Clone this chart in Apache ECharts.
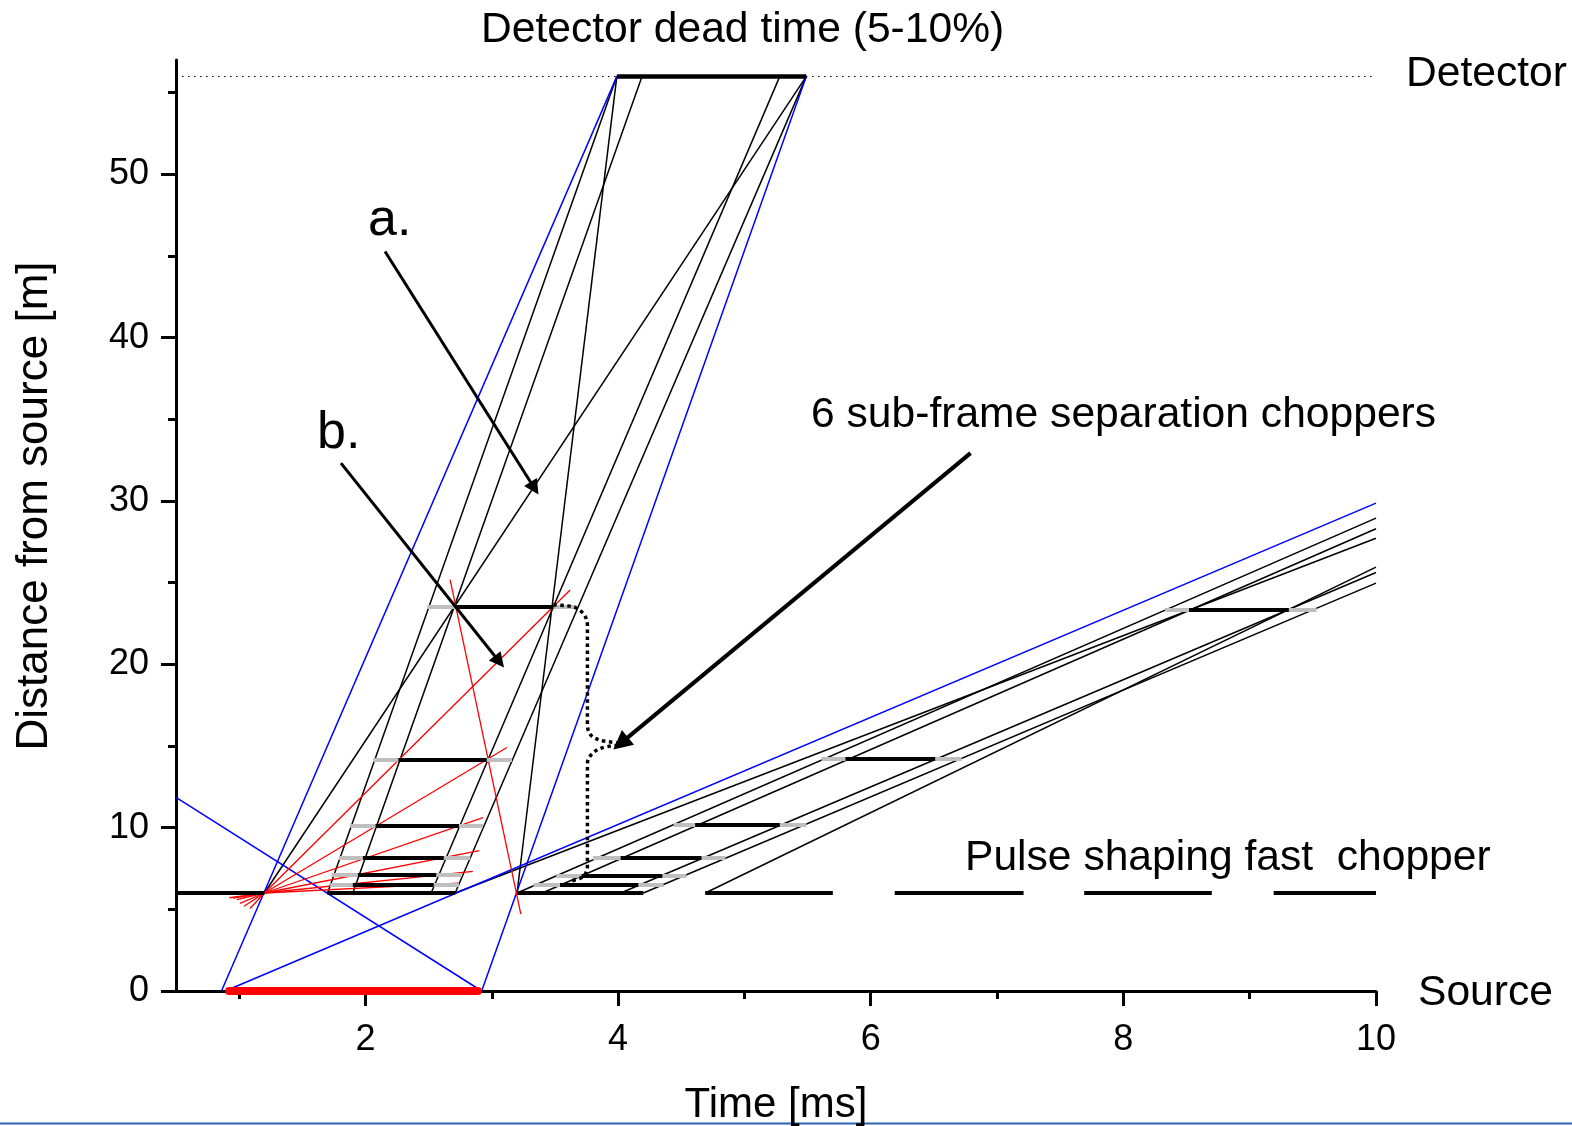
<!DOCTYPE html>
<html>
<head>
<meta charset="utf-8">
<title>Time-distance diagram</title>
<script src="https://cdn.jsdelivr.net/npm/echarts@6.0.0/dist/echarts.min.js"></script>
<style>
html, body { margin: 0; padding: 0; background: #fff; }
#chart { width: 1572px; height: 1126px; }
</style>
</head>
<body>
<div id="chart"></div>
<script>
// values: time in ms, distance in m
var xMajorTicks = [2, 4, 6, 8, 10];
var xMinorTicks = [1, 3, 5, 7, 9];
var yMajorTicks = [0, 10, 20, 30, 40, 50];
var yMinorTicks = [5, 15, 25, 35, 45, 55];

var detectorDistance = 56;
var detectorWindow = [3.99, 5.49];
var sourcePulse = [0.92, 2.89];

// pulse shaping chopper at 6 m
var pulseChopperDistance = 6;
var pulseChopperSegments = [[0.5, 1.2], [1.70, 2.71], [3.20, 4.20], [4.69, 5.70], [6.19, 7.21], [7.69, 8.70], [9.19, 10]];

// sub-frame choppers: [distance, grey start, black start, black end, grey end]
var subFrameFirst = [
    [23.53, 2.49, 2.71, 3.49, 3.67],
    [14.18, 2.06, 2.26, 2.96, 3.16],
    [10.09, 1.88, 2.08, 2.74, 2.93],
    [8.15, 1.79, 1.98, 2.62, 2.83],
    [7.13, 1.73, 1.94, 2.56, 2.76],
    [6.52, 1.72, 1.90, 2.54, 2.74]
];
var subFrameSecond = [
    [23.33, 8.33, 8.52, 9.31, 9.53],
    [14.20, 5.61, 5.80, 6.51, 6.72],
    [10.15, 4.44, 4.61, 5.28, 5.49],
    [8.17, 3.80, 4.02, 4.66, 4.85],
    [7.05, 3.51, 3.71, 4.35, 4.54],
    [6.48, 3.33, 3.54, 4.16, 4.36]
];

// neutron paths: [t0, d0, t1, d1]
var blueLines = [
    [0.86, 0, 3.99, 56],
    [2.92, 0, 5.49, 56],
    [0.89, 0, 10, 29.87],
    [0.5, 11.85, 2.92, 0]
];
var fastLines = [
    [1.70, 6, 3.99, 56],
    [1.90, 6, 4.19, 56],
    [2.52, 6, 5.28, 56],
    [2.71, 6, 5.49, 56],
    [1.20, 6, 5.49, 56],
    [3.20, 6, 3.99, 56]
];
var slowLines = [
    [3.20, 6, 10, 28.95],
    [3.40, 6, 10, 28.30],
    [2.71, 6, 10, 27.72],
    [4.69, 6, 10, 25.95],
    [4.02, 6, 10, 25.62],
    [4.20, 6, 10, 24.97]
];
var redSteep = [2.67, 25.18, 3.23, 4.70];
var fanOrigin = [1.2, 6];
var fanStarts = [[1.086, 5.05], [1.038, 5.19], [1.007, 5.37], [0.981, 5.60], [0.951, 5.68], [0.922, 5.71]];
var fanEnds = [[3.62, 24.55], [3.12, 14.91], [2.93, 10.62], [2.90, 8.60], [2.85, 7.33], [2.74, 6.60]];

// dotted brace joining the two chopper groups
var braceT = [3.487, 3.60, 3.672, 3.735, 3.757, 3.757, 3.78, 3.857, 4.015, 3.857, 3.78, 3.757, 3.757, 3.735, 3.70, 3.62];
var braceD = [23.63, 23.58, 23.43, 23.00, 22.40, 16.38, 15.70, 15.36, 15.12, 14.85, 14.40, 13.90, 7.60, 7.10, 6.90, 6.72];

// annotation arrows: [t0, d0, t1, d1]
var arrowA = [2.155, 45.28, 3.338, 30.78];
var arrowB = [1.806, 32.32, 3.06, 20.16];
var arrowChoppers = [6.79, 32.93, 4.02, 15.16];

var FONT = '"Liberation Sans", Arial, sans-serif';

function seg(a) {
    return { coords: [[a[0], a[1]], [a[2], a[3]]] };
}
function linesSeries(data, color, width, extra) {
    var s = {
        type: 'lines',
        coordinateSystem: 'cartesian2d',
        silent: true,
        data: data,
        lineStyle: { color: color, width: width, opacity: 1, curveness: 0 }
    };
    for (var k in extra) s[k] = extra[k];
    return s;
}
function label(text, x, y, size) {
    return {
        type: 'text',
        style: { text: text, x: x, y: y, font: size + 'px ' + FONT, fill: '#000',
                 textAlign: 'left', textVerticalAlign: 'middle', align: 'left', verticalAlign: 'middle' }
    };
}

var greySegs = [], blackSegs = [];
subFrameFirst.concat(subFrameSecond).forEach(function(c) {
    greySegs.push(seg([c[1], c[0], c[4], c[0]]));
    blackSegs.push(seg([c[2], c[0], c[3], c[0]]));
});
pulseChopperSegments.forEach(function(p) {
    blackSegs.push(seg([p[0], pulseChopperDistance, p[1], pulseChopperDistance]));
});

var fanData = fanEnds.map(function(e, i) {
    return { coords: [fanStarts[i], fanOrigin, e] };
});
fanData.push(seg(redSteep));

var braceData = braceT.map(function(t, i) { return [t, braceD[i]]; });

var option = {
    animation: false,
    backgroundColor: '#fff',
    grid: { left: 176, right: 196, top: 60, bottom: 135, containLabel: false, outerBoundsMode: 'none' },
    xAxis: [{
        type: 'value', min: 0.5, max: 10, position: 'bottom',
        axisLine: { onZero: false, lineStyle: { color: '#000', width: 3 } },
        axisTick: { customValues: xMajorTicks, length: 15, lineStyle: { color: '#000', width: 3 } },
        axisLabel: { customValues: xMajorTicks, fontSize: 36, color: '#000', margin: 31, fontFamily: FONT },
        splitLine: { show: false },
        name: 'Time [ms]', nameLocation: 'middle', nameGap: 93,
        nameTextStyle: { fontSize: 42, color: '#000', fontFamily: FONT }
    }, {
        type: 'value', min: 0.5, max: 10, position: 'bottom',
        axisLine: { show: false },
        axisTick: { customValues: xMinorTicks, length: 8, lineStyle: { color: '#000', width: 3 } },
        axisLabel: { show: false },
        splitLine: { show: false }
    }],
    yAxis: [{
        type: 'value', min: 0, max: 57, position: 'left',
        axisLine: { onZero: false, lineStyle: { color: '#000', width: 3 } },
        axisTick: { customValues: yMajorTicks, length: 15, lineStyle: { color: '#000', width: 3 } },
        axisLabel: { customValues: yMajorTicks, fontSize: 36, color: '#000', margin: 27, fontFamily: FONT },
        splitLine: { show: false }
    }, {
        type: 'value', min: 0, max: 57, position: 'left',
        axisLine: { show: false },
        axisTick: { customValues: yMinorTicks, length: 8, lineStyle: { color: '#000', width: 3 } },
        axisLabel: { show: false },
        splitLine: { show: false }
    }],
    series: [
        linesSeries([seg([0.5, detectorDistance, 10, detectorDistance])], '#000', 1.2, { lineStyle: { color: '#000', width: 1.2, type: [1.5, 4.5], opacity: 1 } }),
        linesSeries(fastLines.map(seg).concat(slowLines.map(seg)), '#000', 1.5, {}),
        linesSeries(blueLines.map(seg), '#0000ff', 1.5, {}),
        linesSeries(fanData, '#ff0000', 1.3, { polyline: true }),
        linesSeries(greySegs, '#bfbfbf', 4, { z: 3 }),
        linesSeries(blackSegs, '#000', 4, { z: 4 }),
        linesSeries([seg([detectorWindow[0], detectorDistance, detectorWindow[1], detectorDistance])], '#000', 4.5, { z: 4 }),
        linesSeries([seg([sourcePulse[0], 0, sourcePulse[1], 0])], '#ff0000', 8, { z: 5, lineStyle: { color: '#ff0000', width: 8, cap: 'round', opacity: 1 } }),
        {
            type: 'line', silent: true, data: braceData, showSymbol: false, smooth: 0.35, z: 5,
            lineStyle: { color: '#000', width: 3.5, type: [3.5, 3.5] }
        },
        linesSeries([seg(arrowA), seg(arrowB)], '#000', 3, { z: 6, symbol: ['none', 'triangle'], symbolSize: 15 }),
        linesSeries([seg(arrowChoppers)], '#000', 4, { z: 6, symbol: ['none', 'triangle'], symbolSize: 19 })
    ],
    graphic: [
        label('Detector dead time (5-10%)', 481, 30, 42.6),
        label('Detector', 1406, 74, 42.6),
        label('Source', 1418, 993, 42.6),
        label('a.', 368, 221, 52),
        label('b.', 317, 434, 52),
        label('6 sub-frame separation choppers', 811, 415, 42.6),
        label('Pulse shaping fast  chopper', 965, 858, 42.6),
        {
            type: 'text', x: 35, y: 506, rotation: Math.PI / 2,
            style: { text: 'Distance from source [m]', x: 0, y: 0, font: '44px ' + FONT, fill: '#000',
                     textAlign: 'center', textVerticalAlign: 'middle', align: 'center', verticalAlign: 'middle' }
        },
        { type: 'line', shape: { x1: 0, y1: 1123.5, x2: 1572, y2: 1123.5 }, style: { stroke: '#2f63b8', lineWidth: 2 } }
    ]
};

var chart = echarts.init(document.getElementById('chart'));
chart.setOption(option);
</script>
</body>
</html>
